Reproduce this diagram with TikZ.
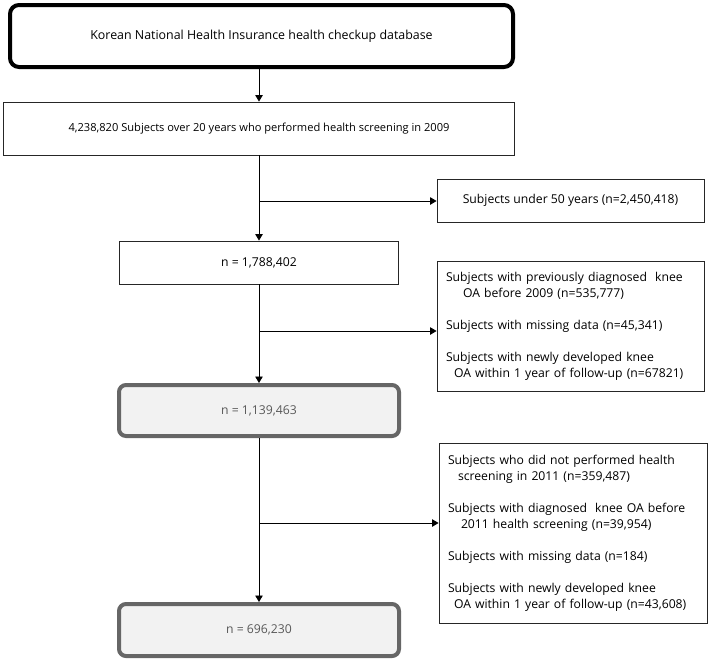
\documentclass[tikz,border=0pt]{standalone}
\usepackage{fontspec}
\setmainfont{Open Sans}
\usetikzlibrary{arrows.meta}
\definecolor{grayfill}{HTML}{F2F2F2}
\definecolor{grayline}{HTML}{666666}
\definecolor{graytext}{HTML}{595959}
\tikzset{
  txt/.style={font=\fontsize{12.2}{16}\selectfont},
  thinbox/.style={draw=black!85, line width=0.9pt, rectangle, inner sep=0pt, txt},
  topbox/.style={draw=black, line width=4pt, rounded corners=9pt, rectangle, inner sep=0pt, font=\fontsize{12.4}{16}\selectfont},
  graybox/.style={draw=grayline, fill=grayfill, line width=4pt, rounded corners=7pt, rectangle, inner sep=0pt, text=graytext, txt},
  listbox/.style={thinbox, align=left, inner xsep=9pt},
  conn/.style={line width=0.9pt, -{Triangle[length=6.5pt,width=7.5pt]}}
}
\begin{document}
\begin{tikzpicture}[x=1pt,y=-1pt]
\useasboundingbox (0,0) rectangle (708,662);
\node[topbox, minimum width=503pt, minimum height=62pt] (db) at (261.5,36) {Korean National Health Insurance health checkup database};
\node[thinbox, minimum width=511pt, minimum height=53pt, font=\fontsize{11.1}{16}\selectfont] (all) at (259,128.5) {4,238,820 Subjects over 20 years who performed health screening in 2009};
\node[thinbox, minimum width=267pt, minimum height=43pt] (ex1) at (570.5,200.5) {Subjects under 50 years (n=2,450,418)};
\node[thinbox, minimum width=279pt, minimum height=43pt] (n1) at (259,262.5) {n = 1,788,402};
\node[listbox, text width=249pt, minimum height=130pt] (ex2) at (570.5,326) {Subjects with previously diagnosed~ knee\\
\hspace*{17pt}OA before 2009 (n=535,777)\\[16pt]
Subjects with missing data (n=45,341)\\[16pt]
Subjects with newly developed knee\\
\hspace*{8pt}OA within 1 year of follow-up (n=67821)};
\node[graybox, minimum width=280pt, minimum height=51pt] (n2) at (259,410.5) {n = 1,139,463};
\node[listbox, text width=250pt, minimum height=180pt] (ex3) at (573,533) {Subjects who did not performed health\\
\hspace*{10pt}screening in 2011 (n=359,487)\\[16pt]
Subjects with diagnosed~ knee OA before\\
\hspace*{13pt}2011 health screening (n=39,954)\\[16pt]
Subjects with missing data (n=184)\\[16pt]
Subjects with newly developed knee\\
\hspace*{6pt}OA within 1 year of follow-up (n=43,608)};
\node[graybox, minimum width=280pt, minimum height=52pt] (n3) at (259,630) {n = 696,230};
\coordinate (b1) at (259,201);
\coordinate (b2) at (259,331);
\coordinate (b3) at (259,523);
\draw[conn] (all.north |- db.south) -- (all.north);
\draw[conn] (all.south) -- (n1.north);
\draw[conn] (b1) -- (b1 -| ex1.west);
\draw[conn] (n1.south) -- (n2.north);
\draw[conn] (b2) -- (b2 -| ex2.west);
\draw[conn] (n2.south) -- (n3.north);
\draw[conn] (b3) -- (b3 -| ex3.west);
\end{tikzpicture}
\end{document}
